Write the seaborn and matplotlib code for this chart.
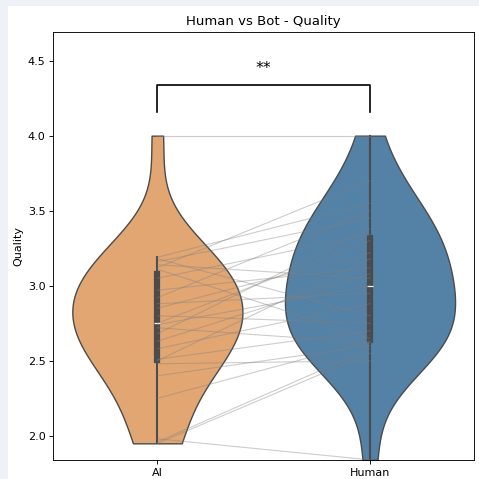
import pandas as pd
import matplotlib
matplotlib.use("Agg")
import matplotlib.pyplot as plt
import seaborn as sns
from matplotlib.patches import Rectangle

# paired quality scores (same item rated for AI and Human text)
ai_scores = [4.00, 1.98, 1.95, 1.96,
             3.19, 3.18, 3.16, 3.14, 3.12, 3.11, 3.05, 2.97, 2.92, 2.88, 2.85,
             2.80, 2.75, 2.74, 2.72, 2.68, 2.63, 2.58, 2.51, 2.50, 2.25, 2.40, 2.48]
human_scores = [4.00, 1.84, 2.55, 2.58,
                3.55, 2.80, 3.45, 3.05, 3.70, 2.65, 3.34, 3.12, 3.50, 2.95, 3.22,
                2.75, 3.30, 3.00, 2.62, 3.38, 3.08, 2.88, 2.70, 3.18, 2.63, 2.60, 2.50]
groups = ["AI", "Human"]
palette = {"AI": "sandybrown", "Human": "steelblue"}
signif = "**"

n = len(ai_scores)
df = pd.DataFrame({
    "Source": ["AI"] * n + ["Human"] * n,
    "Quality": ai_scores + human_scores,
})

fig, ax = plt.subplots(figsize=(6, 6), dpi=479 / 6)
fig.patch.set_facecolor("#eef2f7")
fig.add_artist(Rectangle((8 / 479, 0), 1, 1 - 6 / 479, transform=fig.transFigure,
                         facecolor="white", edgecolor="none", zorder=-10))

sns.violinplot(data=df, x="Source", y="Quality", hue="Source", palette=palette,
               order=groups, cut=0, inner="box", bw_adjust=1.2, legend=False, ax=ax)

# connect the pairs
for a, h in zip(ai_scores, human_scores):
    ax.plot([0, 1], [a, h], color="gray", alpha=0.4, lw=1, zorder=3)

# significance bracket
ax.plot([0, 0, 1, 1], [4.16, 4.34, 4.34, 4.16], color="black", lw=1.5)
ax.text(0.5, 4.40, signif, ha="center", va="bottom", fontsize=14)

ax.set_ylim(1.84, 4.69)
ax.set_xlabel("")
ax.set_ylabel("Quality")
ax.set_title("Human vs Bot - Quality")

fig.subplots_adjust(left=0.111, right=0.990, top=0.933, bottom=0.040)
fig.savefig("out.png", dpi=fig.dpi)
